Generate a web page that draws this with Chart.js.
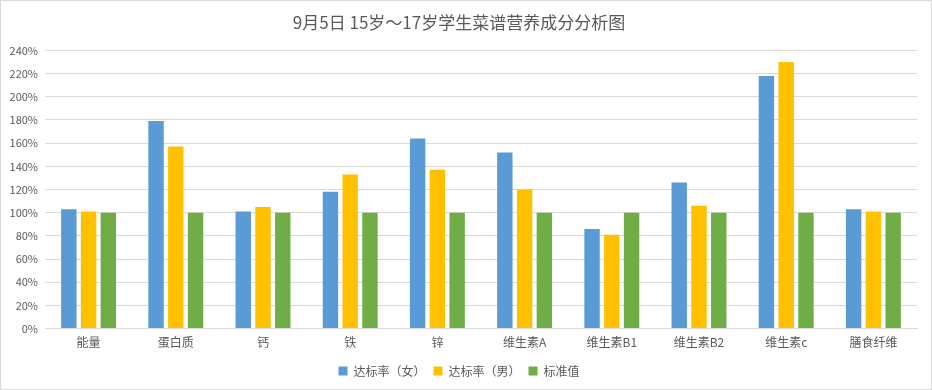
<!DOCTYPE html>
<html>
<head>
<meta charset="utf-8">
<script src="https://cdn.jsdelivr.net/npm/chart.js@4/dist/chart.umd.min.js"></script>
<style>
  html, body { margin: 0; padding: 0; background: #fff; }
  #wrap { width: 930px; height: 388px; border: 1px solid #d9d9d9; position: relative; }
</style>
</head>
<body>
<div id="wrap"><canvas id="c" width="930" height="388"></canvas></div>
<script>
// categories and series values (percent)
const categories = ["能量", "蛋白质", "钙", "铁", "锌", "维生素A", "维生素B1", "维生素B2", "维生素c", "膳食纤维"]
const femaleRate = [103, 179, 101, 118, 164, 152, 86, 126, 218, 103]
const maleRate = [101, 157, 105, 133, 137, 120, 81, 106, 230, 101]
const standard = [100, 100, 100, 100, 100, 100, 100, 100, 100, 100]

const seriesNames = ["达标率（女）", "达标率（男）", "标准值"]
const colors = ["#5B9BD5", "#FFC000", "#70AD47"]

const font = "'Noto Sans CJK SC', 'Noto Sans', sans-serif"
const textColor = "#595959"

let ctx = document.getElementById("c").getContext("2d")

let config = {
  type: 'bar',
  data: {
    labels: categories,
    datasets: [femaleRate, maleRate, standard].map((values, idx) => {
      return {
        label: seriesNames[idx],
        data: values,
        backgroundColor: colors[idx],
        borderWidth: 0,
        categoryPercentage: 0.68,
        barPercentage: 0.78
      }
    })
  },
  options: {
    responsive: false,
    animation: false,
    layout: {
      padding: { left: 0, right: 14, top: 4, bottom: 2 }
    },
    scales: {
      x: {
        grid: { display: false, drawTicks: false },
        border: { color: '#d9d9d9', width: 1 },
        ticks: {
          color: textColor,
          padding: 7,
          font: { family: font, size: 12 }
        }
      },
      y: {
        min: 0,
        max: 240,
        afterFit: function (scale) {
          scale.width = 44
        },
        grid: { color: '#d9d9d9', lineWidth: 1, drawTicks: false },
        border: { display: false },
        ticks: {
          stepSize: 20,
          color: textColor,
          padding: 7,
          font: { family: font, size: 11 },
          callback: function (value) {
            return value + '%'
          }
        }
      }
    },
    plugins: {
      title: {
        display: true,
        text: '9月5日 15岁～17岁学生菜谱营养成分分析图',
        color: textColor,
        font: { family: font, size: 17, weight: 'normal' },
        padding: { top: 7, bottom: 18 }
      },
      legend: {
        position: 'bottom',
        labels: {
          color: textColor,
          boxWidth: 9,
          boxHeight: 9,
          padding: 8,
          font: { family: font, size: 12 }
        }
      },
      tooltip: { enabled: false }
    }
  }
}

new Chart(ctx, config)
</script>
</body>
</html>
